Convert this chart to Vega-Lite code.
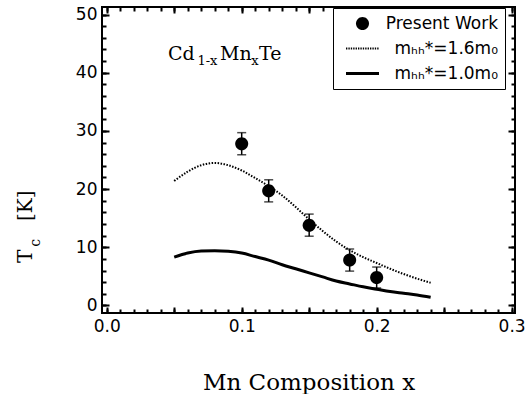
{
  "$schema": "https://vega.github.io/schema/vega-lite/v6.json",
  "width": 413,
  "height": 306,
  "autosize": {"type": "none"},
  "padding": {"left": 102, "top": 7, "right": 17, "bottom": 81},
  "background": "white",
  "datasets": {
    "pts": [
      {"x": 0.10, "y": 27.8, "lo": 25.9, "hi": 29.7, "series": "Present Work"},
      {"x": 0.12, "y": 19.7, "lo": 17.8, "hi": 21.6, "series": "Present Work"},
      {"x": 0.15, "y": 13.8, "lo": 11.9, "hi": 15.7, "series": "Present Work"},
      {"x": 0.18, "y": 7.8, "lo": 5.9, "hi": 9.7, "series": "Present Work"},
      {"x": 0.20, "y": 4.8, "lo": 3.0, "hi": 6.6, "series": "Present Work"}
    ],
    "curves": [
      {"x": 0.05, "y": 21.4, "series": "mₕₕ*=1.6m₀"},
      {"x": 0.06, "y": 23.0, "series": "mₕₕ*=1.6m₀"},
      {"x": 0.07, "y": 24.1, "series": "mₕₕ*=1.6m₀"},
      {"x": 0.08, "y": 24.5, "series": "mₕₕ*=1.6m₀"},
      {"x": 0.09, "y": 24.1, "series": "mₕₕ*=1.6m₀"},
      {"x": 0.10, "y": 23.2, "series": "mₕₕ*=1.6m₀"},
      {"x": 0.11, "y": 21.9, "series": "mₕₕ*=1.6m₀"},
      {"x": 0.12, "y": 20.5, "series": "mₕₕ*=1.6m₀"},
      {"x": 0.13, "y": 18.9, "series": "mₕₕ*=1.6m₀"},
      {"x": 0.14, "y": 16.9, "series": "mₕₕ*=1.6m₀"},
      {"x": 0.15, "y": 14.8, "series": "mₕₕ*=1.6m₀"},
      {"x": 0.16, "y": 12.8, "series": "mₕₕ*=1.6m₀"},
      {"x": 0.17, "y": 11.0, "series": "mₕₕ*=1.6m₀"},
      {"x": 0.18, "y": 9.5, "series": "mₕₕ*=1.6m₀"},
      {"x": 0.19, "y": 8.3, "series": "mₕₕ*=1.6m₀"},
      {"x": 0.20, "y": 7.3, "series": "mₕₕ*=1.6m₀"},
      {"x": 0.21, "y": 6.3, "series": "mₕₕ*=1.6m₀"},
      {"x": 0.22, "y": 5.4, "series": "mₕₕ*=1.6m₀"},
      {"x": 0.23, "y": 4.6, "series": "mₕₕ*=1.6m₀"},
      {"x": 0.24, "y": 3.9, "series": "mₕₕ*=1.6m₀"},
      {"x": 0.05, "y": 8.3, "series": "mₕₕ*=1.0m₀"},
      {"x": 0.06, "y": 9.0, "series": "mₕₕ*=1.0m₀"},
      {"x": 0.07, "y": 9.35, "series": "mₕₕ*=1.0m₀"},
      {"x": 0.08, "y": 9.4, "series": "mₕₕ*=1.0m₀"},
      {"x": 0.09, "y": 9.3, "series": "mₕₕ*=1.0m₀"},
      {"x": 0.10, "y": 9.0, "series": "mₕₕ*=1.0m₀"},
      {"x": 0.11, "y": 8.4, "series": "mₕₕ*=1.0m₀"},
      {"x": 0.12, "y": 7.8, "series": "mₕₕ*=1.0m₀"},
      {"x": 0.13, "y": 7.0, "series": "mₕₕ*=1.0m₀"},
      {"x": 0.14, "y": 6.3, "series": "mₕₕ*=1.0m₀"},
      {"x": 0.15, "y": 5.6, "series": "mₕₕ*=1.0m₀"},
      {"x": 0.16, "y": 4.9, "series": "mₕₕ*=1.0m₀"},
      {"x": 0.17, "y": 4.2, "series": "mₕₕ*=1.0m₀"},
      {"x": 0.18, "y": 3.7, "series": "mₕₕ*=1.0m₀"},
      {"x": 0.19, "y": 3.2, "series": "mₕₕ*=1.0m₀"},
      {"x": 0.20, "y": 2.8, "series": "mₕₕ*=1.0m₀"},
      {"x": 0.21, "y": 2.4, "series": "mₕₕ*=1.0m₀"},
      {"x": 0.22, "y": 2.1, "series": "mₕₕ*=1.0m₀"},
      {"x": 0.23, "y": 1.8, "series": "mₕₕ*=1.0m₀"},
      {"x": 0.24, "y": 1.4, "series": "mₕₕ*=1.0m₀"}
    ],
    "notes": [
      {"x": 0.0454, "y": 42.2, "text": "Cd", "kind": "main"},
      {"x": 0.0672, "y": 41.3, "text": "1-x", "kind": "sub"},
      {"x": 0.0839, "y": 42.2, "text": "Mn", "kind": "main"},
      {"x": 0.1070, "y": 41.3, "text": "x", "kind": "sub"},
      {"x": 0.1128, "y": 42.2, "text": "Te", "kind": "main"},
      {"x": -0.0553, "y": 7.3, "text": "T", "kind": "ymain"},
      {"x": -0.0494, "y": 10.1, "text": "c", "kind": "ysub"},
      {"x": -0.0553, "y": 14.5, "text": "[K]", "kind": "ymain"}
    ]
  },
  "layer": [
    {
      "data": {"name": "curves"},
      "transform": [{"filter": "datum.series === 'mₕₕ*=1.6m₀'"}],
      "mark": {"type": "line", "color": "black", "strokeWidth": 2, "strokeDash": [1.5, 1.5], "interpolate": "monotone"},
      "encoding": {
        "x": {"field": "x", "type": "quantitative", "scale": {"domain": [-0.0035, 0.3025], "nice": false, "zero": false},
          "axis": {"orient": "bottom", "values": [0, 0.05, 0.1, 0.15, 0.2, 0.25, 0.3], "offset": -6, "ticks": true, "tickSize": 6, "tickColor": "black", "tickWidth": 2, "gridOpacity": 0, "domainOpacity": 0, "labelExpr": "round(datum.value*20) % 2 == 0 ? format(datum.value, '.1f') : ''", "labelPadding": 5, "title": "Mn Composition x", "titleFont": "DejaVu Serif", "titleFontSize": 23, "titleFontWeight": "normal", "titleColor": "black", "titlePadding": 37}},
        "y": {"field": "y", "type": "quantitative", "scale": {"domain": [-1.3, 51.3], "nice": false, "zero": false},
          "axis": {"orient": "left", "values": [0, 10, 20, 30, 40, 50], "offset": -7, "ticks": true, "tickSize": 7, "tickColor": "black", "tickWidth": 2, "gridOpacity": 0, "domainOpacity": 0, "labelPadding": 5, "title": null}}
      }
    },
    {
      "data": {"name": "curves"},
      "transform": [{"filter": "datum.series === 'mₕₕ*=1.0m₀'"}],
      "mark": {"type": "line", "color": "black", "strokeWidth": 3, "interpolate": "monotone"},
      "encoding": {
        "x": {"field": "x", "type": "quantitative", "scale": {"domain": [-0.0035, 0.3025], "nice": false, "zero": false},
          "axis": {"orient": "bottom", "values": [0, 0.01, 0.02, 0.03, 0.04, 0.05, 0.06, 0.07, 0.08, 0.09, 0.1, 0.11, 0.12, 0.13, 0.14, 0.15, 0.16, 0.17, 0.18, 0.19, 0.2, 0.21, 0.22, 0.23, 0.24, 0.25, 0.26, 0.27, 0.28, 0.29, 0.3], "offset": -4, "ticks": true, "tickSize": 4, "tickColor": "black", "tickWidth": 2, "gridOpacity": 0, "domainOpacity": 0, "labels": false, "title": null}},
        "y": {"field": "y", "type": "quantitative", "scale": {"domain": [-1.3, 51.3], "nice": false, "zero": false},
          "axis": {"orient": "left", "values": [0, 2, 4, 6, 8, 10, 12, 14, 16, 18, 20, 22, 24, 26, 28, 30, 32, 34, 36, 38, 40, 42, 44, 46, 48, 50], "offset": -4, "ticks": true, "tickSize": 4, "tickColor": "black", "tickWidth": 2, "gridOpacity": 0, "domainOpacity": 0, "labels": false, "title": null}}
      }
    },
    {
      "data": {"name": "pts"},
      "mark": {"type": "rule", "color": "black", "strokeWidth": 1.5},
      "encoding": {
        "x": {"field": "x", "type": "quantitative", "scale": {"domain": [-0.0035, 0.3025], "nice": false, "zero": false},
          "axis": {"orient": "top", "values": [0, 0.05, 0.1, 0.15, 0.2, 0.25, 0.3], "offset": -6, "ticks": true, "tickSize": 6, "tickColor": "black", "tickWidth": 2, "gridOpacity": 0, "domainOpacity": 0, "labels": false, "title": null}},
        "y": {"field": "lo", "type": "quantitative", "scale": {"domain": [-1.3, 51.3], "nice": false, "zero": false},
          "axis": {"orient": "right", "values": [0, 10, 20, 30, 40, 50], "offset": -7, "ticks": true, "tickSize": 7, "tickColor": "black", "tickWidth": 2, "gridOpacity": 0, "domainOpacity": 0, "labels": false, "title": null}},
        "y2": {"field": "hi"}
      }
    },
    {
      "data": {"name": "pts"},
      "transform": [{"fold": ["lo", "hi"], "as": ["end", "v"]}],
      "mark": {"type": "tick", "color": "black", "orient": "horizontal", "size": 9, "thickness": 1.5},
      "encoding": {
        "x": {"field": "x", "type": "quantitative", "scale": {"domain": [-0.0035, 0.3025], "nice": false, "zero": false},
          "axis": {"orient": "top", "values": [0, 0.01, 0.02, 0.03, 0.04, 0.05, 0.06, 0.07, 0.08, 0.09, 0.1, 0.11, 0.12, 0.13, 0.14, 0.15, 0.16, 0.17, 0.18, 0.19, 0.2, 0.21, 0.22, 0.23, 0.24, 0.25, 0.26, 0.27, 0.28, 0.29, 0.3], "offset": -4, "ticks": true, "tickSize": 4, "tickColor": "black", "tickWidth": 2, "gridOpacity": 0, "domainOpacity": 0, "labels": false, "title": null}},
        "y": {"field": "v", "type": "quantitative", "scale": {"domain": [-1.3, 51.3], "nice": false, "zero": false},
          "axis": {"orient": "right", "values": [0, 2, 4, 6, 8, 10, 12, 14, 16, 18, 20, 22, 24, 26, 28, 30, 32, 34, 36, 38, 40, 42, 44, 46, 48, 50], "offset": -4, "ticks": true, "tickSize": 4, "tickColor": "black", "tickWidth": 2, "gridOpacity": 0, "domainOpacity": 0, "labels": false, "title": null}}
      }
    },
    {
      "data": {"name": "pts"},
      "mark": {"type": "point", "filled": true, "color": "black", "opacity": 1, "size": 225, "strokeWidth": 0},
      "encoding": {
        "x": {"field": "x", "type": "quantitative", "scale": {"domain": [-0.0035, 0.3025], "nice": false, "zero": false}, "axis": null},
        "y": {"field": "y", "type": "quantitative", "scale": {"domain": [-1.3, 51.3], "nice": false, "zero": false}, "axis": null},
        "shape": {"field": "series", "type": "nominal",
          "scale": {"domain": ["Present Work", "mₕₕ*=1.6m₀", "mₕₕ*=1.0m₀"],
            "range": [
              "M0.87,0A0.87,0.87 0 1,1 -0.87,0A0.87,0.87 0 1,1 0.87,0Z",
              "M-2.2,-0.13h0.18v0.26h-0.18zM-1.88,-0.13h0.18v0.26h-0.18zM-1.56,-0.13h0.18v0.26h-0.18zM-1.24,-0.13h0.18v0.26h-0.18zM-0.92,-0.13h0.18v0.26h-0.18zM-0.6,-0.13h0.18v0.26h-0.18zM-0.28,-0.13h0.18v0.26h-0.18zM0.04,-0.13h0.18v0.26h-0.18zM0.36,-0.13h0.18v0.26h-0.18zM0.68,-0.13h0.18v0.26h-0.18zM1.0,-0.13h0.18v0.26h-0.18zM1.32,-0.13h0.18v0.26h-0.18zM1.64,-0.13h0.18v0.26h-0.18zM1.96,-0.13h0.18v0.26h-0.18z",
              "M-2.2,-0.2H2.2V0.2H-2.2Z"
            ]},
          "legend": {"orient": "none", "legendX": 231, "legendY": 1, "title": null, "strokeColor": "black", "fillColor": "white", "padding": 7, "labelFont": "DejaVu Sans", "labelFontSize": 17, "labelColor": "black", "labelAlign": "right", "labelOffset": 127, "labelLimit": 300, "symbolOffset": 14, "symbolSize": 225, "symbolFillColor": "black", "symbolStrokeWidth": 0, "rowPadding": 7, "zindex": 2}}
      }
    },
    {
      "data": {"name": "notes"},
      "transform": [{"filter": "datum.kind === 'main'"}],
      "mark": {"type": "text", "font": "DejaVu Serif", "fontSize": 19, "color": "black", "align": "left", "baseline": "alphabetic"},
      "encoding": {
        "x": {"field": "x", "type": "quantitative", "scale": {"domain": [-0.0035, 0.3025], "nice": false, "zero": false}, "axis": null},
        "y": {"field": "y", "type": "quantitative", "scale": {"domain": [-1.3, 51.3], "nice": false, "zero": false}, "axis": null},
        "text": {"field": "text"}
      }
    },
    {
      "data": {"name": "notes"},
      "transform": [{"filter": "datum.kind === 'sub'"}],
      "mark": {"type": "text", "font": "DejaVu Serif", "fontSize": 13, "color": "black", "align": "left", "baseline": "alphabetic"},
      "encoding": {
        "x": {"field": "x", "type": "quantitative", "scale": {"domain": [-0.0035, 0.3025], "nice": false, "zero": false}, "axis": null},
        "y": {"field": "y", "type": "quantitative", "scale": {"domain": [-1.3, 51.3], "nice": false, "zero": false}, "axis": null},
        "text": {"field": "text"}
      }
    },
    {
      "data": {"name": "notes"},
      "transform": [{"filter": "datum.kind === 'ymain'"}],
      "mark": {"type": "text", "font": "DejaVu Serif", "fontSize": 20, "color": "black", "align": "left", "baseline": "alphabetic", "angle": 270},
      "encoding": {
        "x": {"field": "x", "type": "quantitative", "scale": {"domain": [-0.0035, 0.3025], "nice": false, "zero": false}, "axis": null},
        "y": {"field": "y", "type": "quantitative", "scale": {"domain": [-1.3, 51.3], "nice": false, "zero": false}, "axis": null},
        "text": {"field": "text"}
      }
    },
    {
      "data": {"name": "notes"},
      "transform": [{"filter": "datum.kind === 'ysub'"}],
      "mark": {"type": "text", "font": "DejaVu Serif", "fontSize": 14, "color": "black", "align": "left", "baseline": "alphabetic", "angle": 270},
      "encoding": {
        "x": {"field": "x", "type": "quantitative", "scale": {"domain": [-0.0035, 0.3025], "nice": false, "zero": false}, "axis": null},
        "y": {"field": "y", "type": "quantitative", "scale": {"domain": [-1.3, 51.3], "nice": false, "zero": false}, "axis": null},
        "text": {"field": "text"}
      }
    }
  ],
  "config": {
    "view": {"stroke": "black", "strokeWidth": 2},
    "axis": {"labelFont": "DejaVu Sans", "labelFontSize": 17, "labelColor": "black"}
  }
}
